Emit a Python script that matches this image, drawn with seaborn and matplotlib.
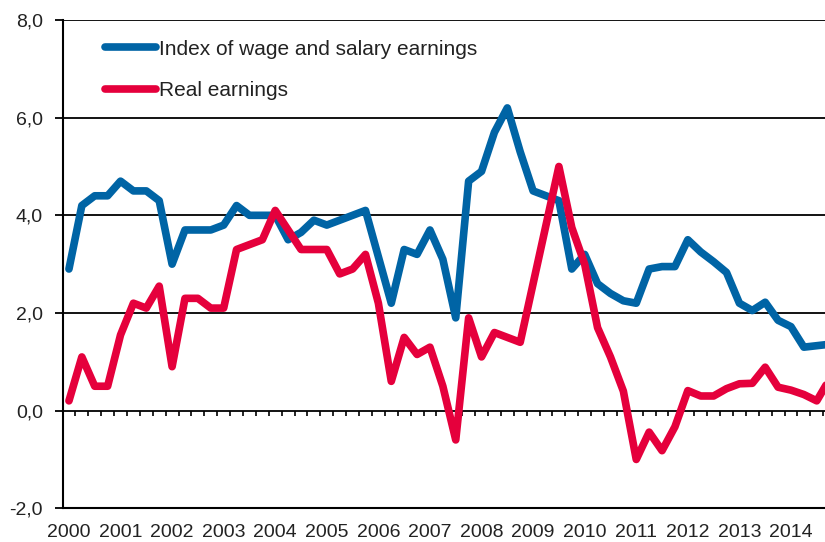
import matplotlib
matplotlib.use("Agg")
import matplotlib.pyplot as plt
import seaborn as sns
import pandas as pd
import numpy as np
from matplotlib.lines import Line2D

years = [str(y) for y in range(2000, 2015)]
quarters_per_year = 4

wage_index = [2.9, 4.2, 4.4, 4.4, 4.7, 4.5, 4.5, 4.3,
              3.0, 3.7, 3.7, 3.7, 3.8, 4.2, 4.0, 4.0,
              4.0, 3.5, 3.65, 3.9, 3.8, 3.9, 4.0, 4.1,
              3.15, 2.2, 3.3, 3.2, 3.7, 3.1, 1.9, 4.7,
              4.9, 5.7, 6.2, 5.3, 4.5, 4.4, 4.3, 2.9,
              3.2, 2.6, 2.4, 2.25, 2.2, 2.9, 2.95, 2.95,
              3.5, 3.25, 3.05, 2.83, 2.2, 2.05, 2.22, 1.85,
              1.72, 1.3, 1.33, 1.36]

real_earnings = [0.2, 1.1, 0.5, 0.5, 1.55, 2.2, 2.1, 2.55,
                 0.9, 2.3, 2.3, 2.1, 2.1, 3.3, 3.4, 3.5,
                 4.1, 3.7, 3.3, 3.3, 3.3, 2.8, 2.9, 3.2,
                 2.2, 0.6, 1.5, 1.15, 1.3, 0.5, -0.6, 1.9,
                 1.1, 1.6, 1.5, 1.4, 2.6, 3.8, 5.0, 3.75,
                 3.0, 1.7, 1.1, 0.4, -1.0, -0.44, -0.82, -0.33,
                 0.41, 0.3, 0.3, 0.45, 0.55, 0.56, 0.89, 0.48,
                 0.42, 0.33, 0.2, 0.65]

series_names = ["Index of wage and salary earnings", "Real earnings"]
colors = ["#0064A5", "#E5003C"]

n = len(wage_index)
df = pd.DataFrame({
    "q": list(range(n)) * 2,
    "value": wage_index + real_earnings,
    "series": [series_names[0]] * n + [series_names[1]] * n,
})

sns.set_theme(style="white")
plt.rcParams["font.family"] = ["Liberation Sans", "DejaVu Sans"]

fig = plt.figure(figsize=(8.25, 5.42), dpi=100)
ax = fig.add_axes([62.5 / 825, 33.7 / 542, 1 - 62.5 / 825, (508.3 - 20) / 542])

sns.lineplot(data=df, x="q", y="value", hue="series", palette=colors,
             linewidth=5.5, ax=ax, legend=False, sort=False,
             solid_capstyle="round", solid_joinstyle="round", zorder=3)

ax.set_ylim(-2, 8)
ax.set_xlim(-0.5, (825 - 62.1) / 12.9 - 0.5)
yt = [-2, 0, 2, 4, 6, 8]
ax.set_yticks(yt)
ax.set_yticklabels([f"{v:.1f}".replace(".", ",") for v in yt], fontsize=14, color="#222222")
for v in [0, 2, 4, 6, 8]:
    ax.axhline(v, color="black", linewidth=1.3, zorder=1)

ax.set_xticks(list(range(0, n, quarters_per_year)))
ax.set_xticklabels(years, fontsize=14, color="#222222")
ax.tick_params(axis="x", length=0, pad=11)
ax.tick_params(axis="y", length=6, width=1.3, color="black", direction="out", pad=8, left=True)

# small category-boundary marks on the zero line
bounds = np.arange(0.5, n - 0.5, 1.0)
ax.vlines(bounds, -0.1, 0, color="black", linewidth=1.2, zorder=1)

for s in ["top", "right"]:
    ax.spines[s].set_visible(False)
for s in ["left", "bottom"]:
    ax.spines[s].set_color("black")
    ax.spines[s].set_linewidth(1.5)
ax.set_xlabel("")
ax.set_ylabel("")

handles = [Line2D([0], [0], color=c, linewidth=5.5, solid_capstyle="round") for c in colors]
leg = ax.legend(handles, series_names, loc="upper left", bbox_to_anchor=(0.0557, 0.96),
                frameon=False, fontsize=15, handlelength=2.45, handletextpad=0.13,
                labelspacing=1.08, borderpad=0, borderaxespad=0)
for t in leg.get_texts():
    t.set_color("#222222")

fig.savefig("out.png", dpi=100)
